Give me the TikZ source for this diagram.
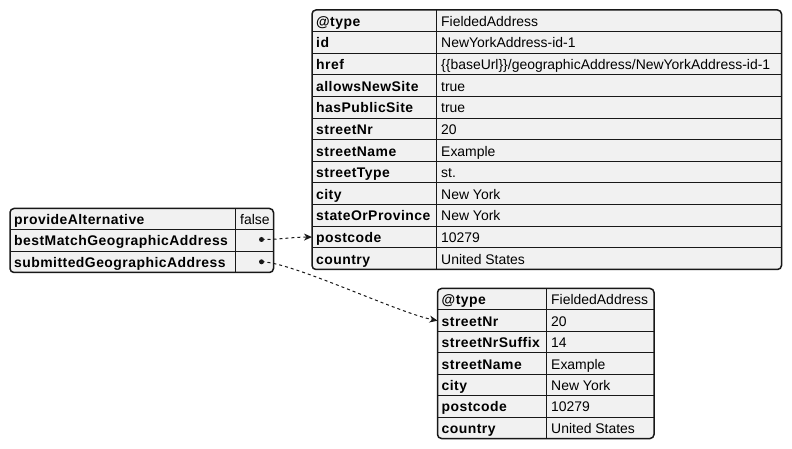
\documentclass[tikz,border=0pt]{standalone}
\usepackage{fontspec}
\setmainfont{Liberation Sans}
\newfontface\keyface{Liberation Sans Bold}[LetterSpace=3.3]
\usetikzlibrary{arrows.meta}
\definecolor{cellfill}{HTML}{F1F1F1}
\definecolor{ink}{HTML}{181818}
\tikzset{
  keytxt/.style={anchor=base west, inner sep=0pt, font=\fontsize{14}{16}\keyface, text=black},
  valtxt/.style={anchor=base west, inner sep=0pt, font=\fontsize{14}{16}\selectfont, text=black},
  frame/.style={draw=ink, line width=1.5bp, rounded corners=4bp},
  gridline/.style={draw=ink, line width=1bp},
  dotnode/.style={circle, fill=ink, inner sep=0pt, minimum size=5bp},
  link/.style={draw=ink, line width=1bp, dash pattern=on 3bp off 3bp,
    -{Stealth[length=8bp,width=7bp,inset=2.5bp]}},
}
% #1 name, #2 left, #3 top, #4 divider, #5 right, #6 row height, #7 rows, #8 key/value list
\newcommand\datatable[8]{%
  \fill[cellfill, rounded corners=4bp] (#2,#3) rectangle (#5,#3+#7*#6);
  \pgfmathtruncatemacro\nlast{#7-1}%
  \foreach \j in {1,...,\nlast} \draw[gridline] (#2,#3+\j*#6) -- (#5,#3+\j*#6);
  \draw[gridline] (#4,#3) -- (#4,#3+#7*#6);
  \foreach [count=\i] \k/\v in {#8} {
    \coordinate (#1-r\i) at (#2,#3+\i*#6-0.5*#6);
    \node[keytxt] (#1-k\i) at (#2+4,#3+\i*#6-0.5*#6+5.5) {\k};
    \node[valtxt] (#1-v\i) at (#4+5,#3+\i*#6-0.5*#6+5.5) {\v};
  }
  \draw[frame] (#2,#3) rectangle (#5,#3+#7*#6);
}
\begin{document}
\begin{tikzpicture}[x=1bp,y=-1bp]
\useasboundingbox (0,0) rectangle (792,449);
\fill[white] (0,0) rectangle (792,449);

\datatable{T}{312}{10}{436}{781.5}{21.625}{12}{%
  @type/FieldedAddress,
  id/NewYorkAddress-id-1,
  href/{\{\{baseUrl\}\}/geographicAddress/NewYorkAddress-id-1},
  allowsNewSite/true,
  hasPublicSite/true,
  streetNr/20,
  streetName/Example,
  streetType/st.,
  city/New York,
  stateOrProvince/New York,
  postcode/10279,
  country/United States}

\datatable{L}{10}{208.5}{235}{273.5}{21.333}{3}{%
  provideAlternative/false,
  bestMatchGeographicAddress/{},
  submittedGeographicAddress/{}}

\datatable{B}{437.5}{288.5}{546}{654}{21.43}{7}{%
  @type/FieldedAddress,
  streetNr/20,
  streetNrSuffix/14,
  streetName/Example,
  city/New York,
  postcode/10279,
  country/United States}

\node[dotnode] (L-d2) at (261.5,239.5) {};
\node[dotnode] (L-d3) at (261.5,261.8) {};

\draw[link] (L-d2.center) to[out=0,in=180] (T-r11);
\draw[link] (L-d3.center) .. controls +(30,0) and +(-40,-8) .. (B-r2);
\end{tikzpicture}
\end{document}
